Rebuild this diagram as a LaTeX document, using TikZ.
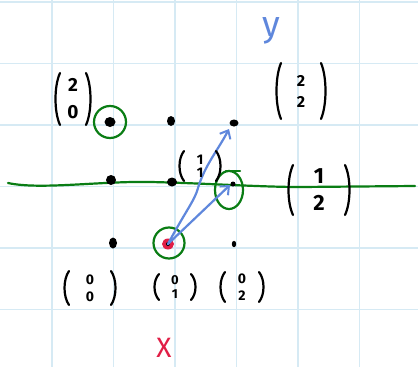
\documentclass[tikz,border=0pt]{standalone}
\usepackage{fontspec}
\setmainfont{Fira Sans}
\usetikzlibrary{arrows.meta,calc}
\definecolor{gridc}{RGB}{214,234,244}
\definecolor{pgreen}{RGB}{10,125,20}
\definecolor{pblue}{RGB}{95,135,220}
\definecolor{pred}{RGB}{225,30,70}
\tikzset{
  gridline/.style={gridc, line width=1.3pt},
  paren/.style={black, line width=2.2pt, line cap=round},
  digits/.style={inner sep=0pt, align=center},
  blob/.style={black},
  ring/.style={pgreen, line width=2.2pt, line cap=round},
  bluearrow/.style={pblue, line width=2.2pt, line cap=round, line join=round,
    -{Straight Barb[length=7pt,width=12pt,line width=2pt]}},
}
\newcommand\pvec[9]{%
  \node[digits, font=\fontsize{#8}{#9}\selectfont\bfseries] (#1) at (#2,#3) {#4\\#5};
  \draw[paren] ($(#1)+(-#6+4,-#7)$) .. controls ($(#1)+(-#6-2,-#7/2)$) and ($(#1)+(-#6-2,#7/2)$) .. ($(#1)+(-#6+4,#7)$);
  \draw[paren] ($(#1)+(#6-4,-#7)$) .. controls ($(#1)+(#6+2,-#7/2)$) and ($(#1)+(#6+2,#7/2)$) .. ($(#1)+(#6-4,#7)$);
}
\begin{document}
\begin{tikzpicture}[x=1pt,y=-1pt]
\useasboundingbox (0,0) rectangle (418,367);
\fill[white] (0,0) rectangle (418,367);
% grid
\foreach \gx in {52,113.5,175,236.5,298,359.5} \draw[gridline] (\gx,0) -- (\gx,367);
\foreach \gy in {2,63.5,125,186.5,248,309.5} \draw[gridline] (0,\gy) -- (418,\gy);
% green line
\draw[pgreen, line width=2.2pt, line cap=round] (8,183) .. controls (40,190) and (100,181) .. (150,182)
   .. controls (200,183) and (260,187) .. (300,187) -- (415,186);
% dots
\coordinate (p20) at (110,122);
\coordinate (p21) at (171,121);
\coordinate (p22) at (234,122);
\coordinate (p10) at (111,180);
\coordinate (p11) at (172,182);
\coordinate (p12) at (233,184);
\coordinate (p00) at (113,243);
\coordinate (p01) at (168,244);
\coordinate (p02) at (234,244);
\fill[blob] (p20) ellipse (5.5 and 5);
\fill[blob] (p21) ellipse (4 and 5);
\fill[blob] ($(p22)+(0,1)$) ellipse (4.5 and 3.5);
\fill[blob] (p10) ellipse (5 and 5);
\fill[blob] (p11) ellipse (5 and 4.5);
\fill[blob] (p12) circle (2.5);
\fill[blob] (p00) ellipse (4 and 5.5);
\fill[pred] (p01) ellipse (6 and 5.5);
\fill[blob] (p01) circle (2);
\fill[blob] (p02) ellipse (2.2 and 3.2);
% rings
\draw[ring] (p20) circle (16);
\draw[ring] ($(p01)+(1,-1)$) ellipse (15.5 and 15.5);
\draw[ring] ($(p12)+(-4,6)$) ellipse (14 and 19);
\draw[ring] ($(p12)+(-7,-13)$) -- ($(p12)+(7,-13)$);
% blue arrows
\draw[bluearrow] (p01) .. controls (185,212) and (195,200) .. (198,188)
   .. controls (205,165) and (218,150) .. ($(p22)+(-5,7)$);
\draw[bluearrow] (p01) -- ($(p12)+(-3,1)$);
% vectors
\pvec{v20}{73}{99}{2}{0}{17}{26}{19}{27}
\pvec{v22}{301}{91}{2}{2}{24}{28}{16}{21}
\pvec{v12}{319}{190}{1}{2}{30}{25}{22}{27}
\pvec{v11}{200}{166}{1}{1}{20}{15}{14}{13}
\pvec{v00}{90}{288}{0}{0}{25}{17}{14}{17}
\pvec{v01}{175}{287}{0}{1}{20}{13}{13}{14}
\pvec{v02}{242}{287}{0}{2}{21}{15}{14}{17}
% axis labels
\node[pblue, font=\fontsize{36}{36}\selectfont, inner sep=0pt] (ylab) at (271,31) {y};
\node[pred, font=\fontsize{28}{28}\selectfont, inner sep=0pt] (xlab) at (164,348) {X};
\end{tikzpicture}
\end{document}
